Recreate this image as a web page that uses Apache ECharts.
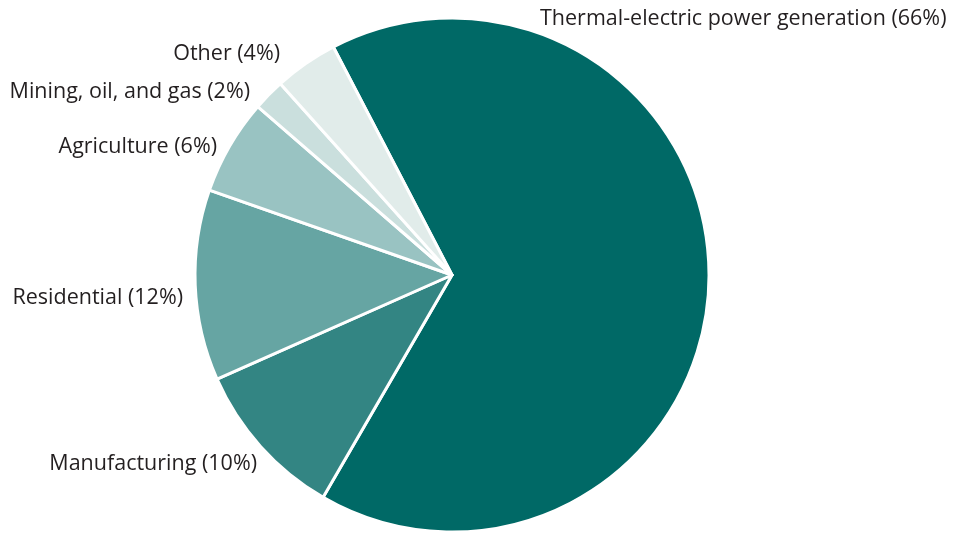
<!DOCTYPE html>
<html>
<head>
<meta charset="utf-8">
<script src="https://cdn.jsdelivr.net/npm/echarts@6/dist/echarts.min.js"></script>
<style>
html,body{margin:0;padding:0;background:#fff;}
#chart{width:961px;height:534px;}
</style>
</head>
<body>
<div id="chart"></div>
<script>
var categories = ['Thermal-electric power generation', 'Manufacturing', 'Residential', 'Agriculture', 'Mining, oil, and gas', 'Other'];
var shares = [66, 10, 12, 6, 2, 4];
var sliceColors = ['#006966', '#338583', '#66a5a3', '#99c3c2', '#cadfdd', '#e1ecea'];
// label anchor placement (x, y, align) per slice
var labelSpots = [
  [540, 19, 'left'],
  [257, 464, 'right'],
  [183, 298, 'right'],
  [217, 147, 'right'],
  [250, 92, 'right'],
  [280, 54, 'right']
];

var chart = echarts.init(document.getElementById('chart'));
chart.setOption({
  animation: false,
  series: [{
    type: 'pie',
    center: [452, 275],
    radius: [0, 257],
    startAngle: 117.5,
    clockwise: true,
    data: categories.map(function (c, i) {
      return { name: c, value: shares[i], itemStyle: { color: sliceColors[i] } };
    }),
    itemStyle: { borderColor: '#ffffff', borderWidth: 3 },
    label: {
      show: true,
      position: 'outside',
      formatter: function (p) { return p.name + ' (' + p.value + '%)'; },
      fontFamily: 'Open Sans',
      fontSize: 21.5,
      color: '#231f20',
      overflow: 'none',
      width: 600
    },
    labelLine: { show: false },
    labelLayout: function (p) {
      var s = labelSpots[p.dataIndex];
      return { x: s[0], y: s[1], align: s[2], verticalAlign: 'middle', width: 600 };
    },
    emphasis: { disabled: true }
  }]
});
</script>
</body>
</html>
